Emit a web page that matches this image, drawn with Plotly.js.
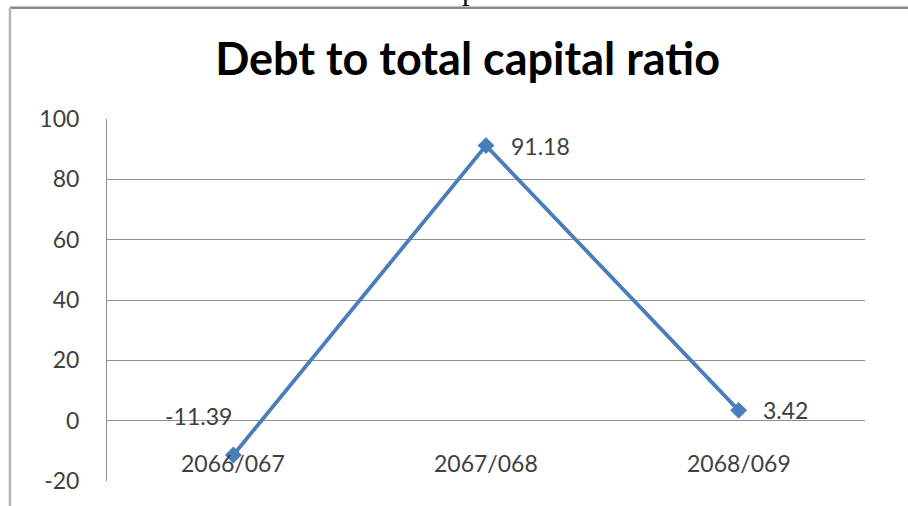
<!DOCTYPE html>
<html>
<head>
<meta charset="utf-8">
<script src="https://cdn.plot.ly/plotly-3.0.1.min.js"></script>
<style>
  html, body { margin: 0; padding: 0; background: #ffffff; }
  #chart { width: 908px; height: 506px; }
</style>
</head>
<body>
<div id="chart"></div>
<script>
// ---- data ----
const categories = ["2066/067", "2067/068", "2068/069"];
const ratioValues = [-11.39, 91.18, 3.42];
const yTickValues = [-20, 0, 20, 40, 60, 80, 100];
const chartTitle = "Debt to total capital ratio";

const lineColor = "#4a7ebb";
const gridColor = "#8f8f8f";
const labelColor = "#404040";
const labelFont = "Lato, 'Open Sans', sans-serif";

// data labels: position offsets per point (styles)
const labelShifts = [
  { xshift: -35, yshift: 39, xanchor: "center" },
  { xshift: 23, yshift: 0, xanchor: "left" },
  { xshift: 22, yshift: 0, xanchor: "left" }
];

const annotations = [];
ratioValues.forEach((v, i) => {
  annotations.push({
    x: categories[i], y: v, xref: "x", yref: "y",
    text: v.toFixed(2), showarrow: false,
    xanchor: labelShifts[i].xanchor, yanchor: "middle",
    xshift: labelShifts[i].xshift, yshift: labelShifts[i].yshift,
    font: { family: labelFont, size: 23, color: labelColor }
  });
});
// category labels placed just below the value-0 axis line (Excel-style crossing)
categories.forEach((c) => {
  annotations.push({
    x: c, y: 0, xref: "x", yref: "y",
    text: c, showarrow: false,
    xanchor: "center", yanchor: "top", yshift: -26,
    font: { family: labelFont, size: 23, color: labelColor }
  });
});
// cut-off letter from the page above the chart
annotations.push({
  x: 0.4776, y: 1.3066, xref: "paper", yref: "paper",
  text: "p", showarrow: false, xanchor: "center", yanchor: "bottom",
  font: { family: "'Liberation Serif', serif", size: 30, color: "#000000" }
});

const trace = {
  x: categories,
  y: ratioValues,
  type: "scatter",
  mode: "lines+markers",
  line: { color: lineColor, width: 3.8 },
  marker: { symbol: "diamond", size: 13, color: lineColor },
  hoverinfo: "skip",
  cliponaxis: false
};

const layout = {
  width: 908,
  height: 506,
  margin: { l: 107, r: 43, t: 119, b: 25 },
  paper_bgcolor: "#ffffff",
  plot_bgcolor: "#ffffff",
  showlegend: false,
  title: {
    text: "<b>" + chartTitle + "</b>",
    font: { family: labelFont, size: 45, color: "#000000" },
    x: 0.515, xref: "container", xanchor: "center",
    y: 0.883, yref: "container", yanchor: "middle"
  },
  xaxis: {
    type: "category",
    range: [-0.5, 2.5],
    showticklabels: false,
    showgrid: false,
    zeroline: false,
    showline: false,
    ticks: "",
    fixedrange: true
  },
  yaxis: {
    range: [-20, 100],
    tickvals: yTickValues,
    ticktext: yTickValues.map(String),
    showgrid: true,
    gridcolor: gridColor,
    gridwidth: 1,
    zeroline: true,
    zerolinecolor: gridColor,
    zerolinewidth: 1,
    showline: true,
    linecolor: gridColor,
    linewidth: 1,
    ticks: "",
    ticklabelstandoff: 22,
    tickfont: { family: labelFont, size: 23, color: labelColor },
    fixedrange: true
  },
  annotations: annotations,
  shapes: [
    { type: "line", xref: "paper", yref: "paper", x0: -0.128, x1: 1.2, y0: 1.3075, y1: 1.3075,
      line: { color: "#8a8a8a", width: 2.5 } },
    { type: "line", xref: "paper", yref: "paper", x0: -0.128, x1: -0.128, y0: -0.2, y1: 1.3075,
      line: { color: "#b4b4b4", width: 2.5 } }
  ]
};

Plotly.newPlot("chart", [trace], layout, { displayModeBar: false, staticPlot: true });
</script>
</body>
</html>
